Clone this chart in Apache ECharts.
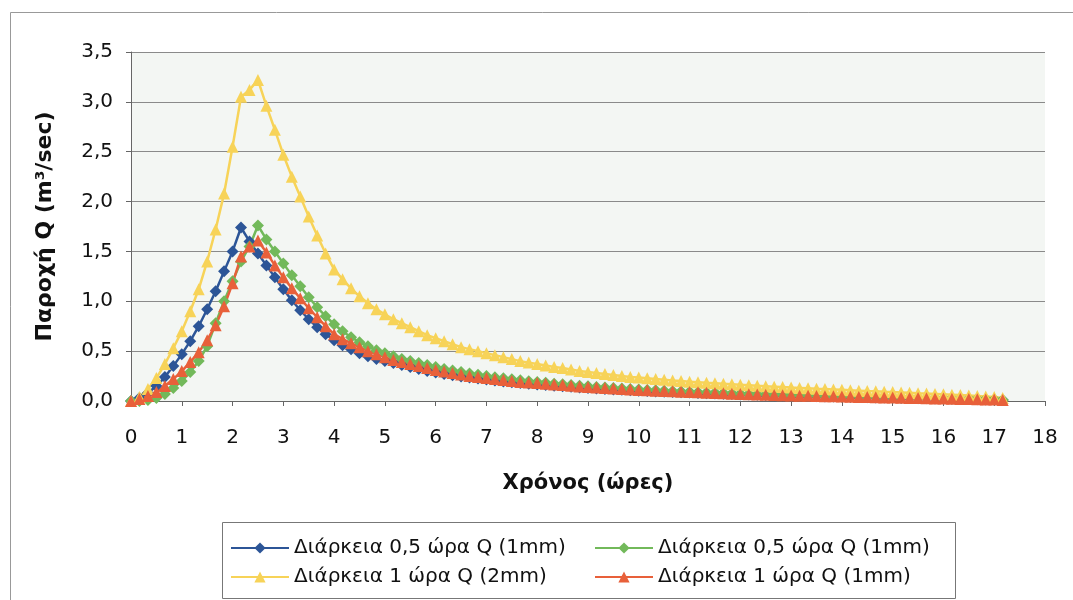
<!DOCTYPE html>
<html>
<head>
<meta charset="utf-8">
<script src="https://cdn.jsdelivr.net/npm/echarts@6/dist/echarts.min.js"></script>
<style>
  html, body { margin: 0; padding: 0; background: #ffffff; }
  #main { width: 1073px; height: 600px; }
</style>
</head>
<body>
<div id="main"></div>
<script>
// χρόνος σε ώρες, βήμα 10 λεπτών (0 .. 17,17)
var times = [];
for (var i = 0; i < 104; i++) times.push(i / 6);

var xTicks = [0, 1, 2, 3, 4, 5, 6, 7, 8, 9, 10, 11, 12, 13, 14, 15, 16, 17, 18];
var yTicks = ['0,0', '0,5', '1,0', '1,5', '2,0', '2,5', '3,0', '3,5'];

var seriesNames = [
  'Διάρκεια 0,5 ώρα Q (1mm)',
  'Διάρκεια 0,5 ώρα Q (1mm)',
  'Διάρκεια 1 ώρα Q (2mm)',
  'Διάρκεια 1 ώρα Q (1mm)'
];

// Διάρκεια 0,5 ώρα Q (1mm) - μπλε
var blueQ = [0.00, 0.03, 0.08, 0.15, 0.24, 0.35, 0.47, 0.60, 0.75, 0.92,
  1.10, 1.30, 1.50, 1.74, 1.60, 1.48, 1.36, 1.24, 1.12, 1.01,
  0.91, 0.82, 0.74, 0.67, 0.61, 0.56, 0.52, 0.48, 0.45, 0.42,
  0.40, 0.38, 0.36, 0.34, 0.32, 0.30, 0.285, 0.27, 0.258, 0.245,
  0.235, 0.225, 0.215, 0.205, 0.196, 0.188, 0.18, 0.173, 0.166, 0.16,
  0.154, 0.148, 0.142, 0.136, 0.131, 0.126, 0.121, 0.116, 0.112, 0.108,
  0.104, 0.10, 0.096, 0.093, 0.09, 0.087, 0.084, 0.081, 0.078, 0.075,
  0.072, 0.069, 0.066, 0.064, 0.062, 0.059, 0.057, 0.055, 0.053, 0.051,
  0.049, 0.047, 0.045, 0.044, 0.042, 0.04, 0.039, 0.037, 0.036, 0.034,
  0.033, 0.031, 0.03, 0.028, 0.027, 0.025, 0.024, 0.022, 0.021, 0.019,
  0.017, 0.015, 0.013, 0.01];

// Διάρκεια 0,5 ώρα Q (1mm) - πράσινο
var greenQ = [0.00, 0.00, 0.01, 0.03, 0.07, 0.13, 0.20, 0.29, 0.40, 0.55,
  0.78, 1.00, 1.20, 1.40, 1.55, 1.76, 1.62, 1.50, 1.38, 1.26,
  1.15, 1.04, 0.94, 0.85, 0.77, 0.70, 0.64, 0.59, 0.55, 0.51,
  0.48, 0.45, 0.42, 0.40, 0.38, 0.36, 0.34, 0.32, 0.305, 0.29,
  0.275, 0.262, 0.25, 0.238, 0.227, 0.217, 0.207, 0.198, 0.19, 0.182,
  0.174, 0.167, 0.16, 0.153, 0.147, 0.141, 0.135, 0.13, 0.125, 0.12,
  0.115, 0.111, 0.107, 0.103, 0.099, 0.095, 0.092, 0.088, 0.085, 0.082,
  0.079, 0.076, 0.073, 0.07, 0.068, 0.065, 0.063, 0.06, 0.058, 0.056,
  0.054, 0.052, 0.05, 0.048, 0.046, 0.044, 0.042, 0.041, 0.039, 0.037,
  0.036, 0.034, 0.033, 0.031, 0.03, 0.028, 0.027, 0.025, 0.023, 0.021,
  0.019, 0.017, 0.014, 0.01];

// Διάρκεια 1 ώρα Q (2mm) - κίτρινο
var yellowQ = [0.00, 0.04, 0.12, 0.23, 0.37, 0.53, 0.70, 0.90, 1.12, 1.40,
  1.72, 2.08, 2.55, 3.05, 3.12, 3.22, 2.96, 2.72, 2.47, 2.25,
  2.05, 1.85, 1.66, 1.48, 1.32, 1.22, 1.13, 1.05, 0.98, 0.92,
  0.87, 0.82, 0.78, 0.74, 0.70, 0.66, 0.63, 0.60, 0.57, 0.54,
  0.52, 0.50, 0.48, 0.46, 0.44, 0.42, 0.40, 0.385, 0.37, 0.355,
  0.34, 0.33, 0.315, 0.30, 0.29, 0.28, 0.27, 0.26, 0.25, 0.24,
  0.235, 0.228, 0.22, 0.213, 0.206, 0.20, 0.194, 0.188, 0.182, 0.177,
  0.172, 0.167, 0.162, 0.157, 0.152, 0.148, 0.144, 0.14, 0.135, 0.131,
  0.127, 0.123, 0.12, 0.116, 0.112, 0.108, 0.104, 0.10, 0.097, 0.093,
  0.09, 0.086, 0.082, 0.078, 0.075, 0.071, 0.067, 0.063, 0.059, 0.055,
  0.05, 0.045, 0.04, 0.03];

// Διάρκεια 1 ώρα Q (1mm) - κόκκινο
var redQ = [0.00, 0.02, 0.05, 0.09, 0.15, 0.22, 0.30, 0.39, 0.49, 0.61,
  0.76, 0.95, 1.18, 1.45, 1.55, 1.61, 1.49, 1.36, 1.24, 1.13,
  1.03, 0.93, 0.84, 0.75, 0.67, 0.62, 0.58, 0.54, 0.50, 0.47,
  0.44, 0.41, 0.39, 0.37, 0.35, 0.33, 0.31, 0.295, 0.28, 0.265,
  0.25, 0.24, 0.23, 0.22, 0.21, 0.20, 0.19, 0.185, 0.18, 0.173,
  0.166, 0.16, 0.153, 0.146, 0.14, 0.135, 0.13, 0.125, 0.12, 0.115,
  0.11, 0.107, 0.103, 0.10, 0.097, 0.093, 0.09, 0.087, 0.083, 0.08,
  0.077, 0.073, 0.07, 0.068, 0.065, 0.062, 0.06, 0.057, 0.055, 0.053,
  0.052, 0.05, 0.048, 0.047, 0.045, 0.043, 0.041, 0.04, 0.038, 0.036,
  0.035, 0.033, 0.031, 0.03, 0.028, 0.026, 0.025, 0.023, 0.021, 0.02,
  0.018, 0.016, 0.015, 0.01];

function pairs(vals) {
  return vals.map(function (v, k) { return [times[k], v]; });
}

var font = 'DejaVu Sans, sans-serif';
var colors = ['#2c5597', '#72b95a', '#f7d358', '#e8603a'];
var symbols = ['diamond', 'diamond', 'triangle', 'triangle'];
var sizes = [12, 12, 12, 12];
var dataSets = [blueQ, greenQ, yellowQ, redQ];

var series = dataSets.map(function (d, k) {
  return {
    name: seriesNames[k] + (k === 1 ? ' ' : ''),
    type: 'line',
    data: pairs(d),
    symbol: symbols[k],
    symbolSize: sizes[k],
    showAllSymbol: true,
    color: colors[k],
    lineStyle: { width: 2.5, color: colors[k] },
    itemStyle: { color: colors[k] },
    animation: false
  };
});

var legendText = { fontFamily: font, fontSize: 20, color: '#111' };

var myChart = echarts.init(document.getElementById('main'));
myChart.setOption({
  backgroundColor: '#ffffff',
  textStyle: { fontFamily: font },
  grid: {
    left: 131, right: 28, top: 52, bottom: 199,
    show: true,
    backgroundColor: '#f3f6f3',
    borderWidth: 0
  },
  legend: [
    {
      data: [series[0].name, series[2].name],
      orient: 'vertical',
      left: 225, top: 533,
      itemGap: 9,
      itemWidth: 58, itemHeight: 14,
      textStyle: legendText
    },
    {
      data: [series[1].name, series[3].name],
      orient: 'vertical',
      left: 589, top: 533,
      itemGap: 9,
      itemWidth: 58, itemHeight: 14,
      textStyle: legendText
    }
  ],
  graphic: [
    {
      type: 'rect', left: 8, top: 10, z: -1,
      shape: { width: 1080, height: 600 },
      style: { fill: 'none', stroke: '#999', lineWidth: 1 }
    },
    {
      type: 'rect', left: 222, top: 522,
      shape: { width: 733, height: 76 },
      style: { fill: '#fff', stroke: '#777', lineWidth: 1 },
      z: 0
    }
  ],
  xAxis: {
    type: 'value',
    min: 0, max: 18, interval: 1,
    name: 'Χρόνος (ώρες)',
    nameLocation: 'middle',
    nameGap: 72,
    nameTextStyle: { fontFamily: font, fontSize: 21, fontWeight: 'bold', color: '#111' },
    axisLine: { lineStyle: { color: '#666', width: 1 } },
    axisTick: { show: true, length: 5, lineStyle: { color: '#666' } },
    axisLabel: {
      fontFamily: font, fontSize: 20, color: '#111', margin: 27,
      formatter: function (v) { return xTicks.indexOf(v) >= 0 ? String(v) : ''; }
    },
    splitLine: { show: false }
  },
  yAxis: {
    type: 'value',
    min: 0, max: 3.5, interval: 0.5,
    name: 'Παροχή Q (m³/sec)',
    nameLocation: 'middle',
    nameGap: 75,
    nameRotate: 90,
    nameTextStyle: { fontFamily: font, fontSize: 22, fontWeight: 'bold', color: '#111' },
    axisLine: { show: true, lineStyle: { color: '#666', width: 1 } },
    axisTick: { show: true, length: 5, lineStyle: { color: '#666' } },
    axisLabel: {
      fontFamily: font, fontSize: 20, color: '#111', margin: 18,
      formatter: function (v) { return yTicks[Math.round(v / 0.5)]; }
    },
    splitLine: { show: true, lineStyle: { color: '#8a8a8a', width: 1 } }
  },
  series: series
});
</script>
</body>
</html>
